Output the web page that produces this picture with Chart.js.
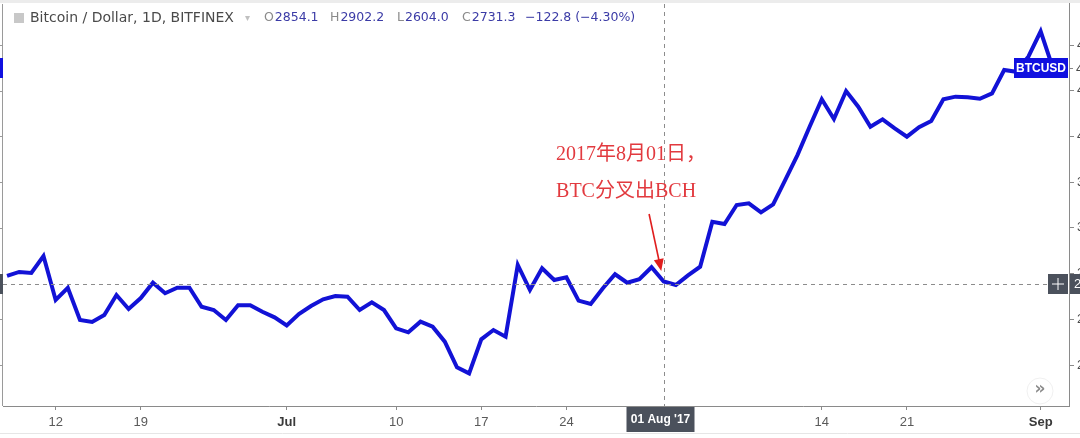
<!DOCTYPE html>
<html lang="zh">
<head>
<meta charset="UTF-8">
<title>Bitcoin / Dollar, 1D, BITFINEX</title>
<script src="https://cdn.jsdelivr.net/npm/chart.js@4.4.0/dist/chart.umd.min.js"></script>
<style>
  html, body { margin: 0; padding: 0; background: #fff; overflow: hidden; width: 1080px; height: 438px; }
  #wrap { position: relative; width: 1130px; height: 438px; }
</style>
</head>
<body>
<div id="wrap"><canvas id="btc" width="1130" height="438"></canvas></div>
<script>
// daily close, 08 Jun 2017 .. 02 Sep 2017 (index 0 = 08 Jun)
const closes = [
  2779, 2814, 2805, 2954, 2569, 2676, 2394, 2376, 2437, 2612,
  2490, 2586, 2720, 2628, 2676, 2676, 2510, 2481, 2394, 2522,
  2522, 2466, 2417, 2347, 2446, 2516, 2575, 2604, 2598, 2481,
  2549, 2481, 2321, 2286, 2379, 2335, 2204, 1980, 1927, 2225,
  2306, 2248, 2875, 2656, 2846, 2744, 2767, 2563, 2534, 2671,
  2794, 2720, 2750, 2855, 2731, 2700, 2784, 2860, 3254, 3234,
  3400, 3415, 3336, 3406, 3619, 3837, 4085, 4325, 4152, 4397,
  4260, 4085, 4150, 4071, 3998, 4080, 4135, 4325, 4348, 4342,
  4330, 4377, 4581, 4566, 4700, 4920, 4600
];
const xTickDays   = [4, 11, 23, 32, 39, 46, 54, 67, 74, 85];
const xTickLabels = ['12', '19', 'Jul', '10', '17', '24', '', '14', '21', 'Sep'];
const monthLabels = ['Jul', 'Sep'];
const yTicks = [2000, 2400, 2800, 3200, 3600, 4000, 4400, 4800];

const header = 'Bitcoin / Dollar, 1D, BITFINEX';
const ohlc = [['O', '2854.1'], ['H', '2902.2'], ['L', '2604.0'], ['C', '2731.3'], ['', '\u2212122.8 (\u22124.30%)']];
const crossDay = 54, crossValue = 2709, crossDate = "01 Aug '17";
const lastLabel = 'BTCUSD';
const noteLines = ['2017年8月01日，', 'BTC分叉出BCH'];

const LINE = '#1212d6';
const DARK = '#4b515c';

// pick a font size so the text spans about the given width
function fitFont(c, text, width, family) {
  let size = 10;
  while (size < 20) {
    c.font = (size + 0.5) + 'px ' + family;
    if (c.measureText(text).width > width) break;
    size += 0.5;
  }
  c.font = size + 'px ' + family;
}

const overlay = {
  id: 'overlay',
  afterDraw(chart) {
    const c = chart.ctx, x = chart.scales.x, y = chart.scales.y, a = chart.chartArea;
    c.save();
    // top band and frame
    c.fillStyle = '#ececec';
    c.fillRect(0, 0, 1130, 3);
    c.strokeStyle = '#9a9a9a'; c.lineWidth = 1;
    c.beginPath(); c.moveTo(2.5, 4); c.lineTo(2.5, a.bottom); c.stroke();
    yTicks.forEach(v => {
      const py = Math.round(y.getPixelForValue(v)) + 0.5;
      c.beginPath(); c.moveTo(0, py); c.lineTo(2, py); c.stroke();
    });
    c.strokeStyle = '#e6e6e6';
    c.beginPath(); c.moveTo(0, 433.5); c.lineTo(1130, 433.5); c.stroke();

    // crosshair
    const cx = Math.round(x.getPixelForValue(crossDay)) + 0.5;
    const cy = Math.round(y.getPixelForValue(crossValue)) + 0.5;
    c.strokeStyle = '#8c8c8c'; c.setLineDash([4, 4]);
    c.beginPath(); c.moveTo(cx, 4); c.lineTo(cx, a.bottom); c.stroke();
    c.beginPath(); c.moveTo(a.left, cy); c.lineTo(1048, cy); c.stroke();
    c.setLineDash([]);

    // annotation
    c.fillStyle = '#e23a3f';
    c.font = '20px "Liberation Serif", "Noto Sans CJK SC", serif';
    c.textBaseline = 'middle'; c.textAlign = 'left';
    const nx = x.getPixelForValue(45.15);
    c.fillText(noteLines[0], nx, y.getPixelForValue(3837));
    c.fillText(noteLines[1], nx, y.getPixelForValue(3514));
    const tx = x.getPixelForValue(52.8), ty = y.getPixelForValue(3321);
    const hx = x.getPixelForValue(53.8), hy = y.getPixelForValue(2822);
    const ang = Math.atan2(hy - ty, hx - tx);
    c.strokeStyle = '#e01e1e'; c.lineWidth = 1.6;
    c.beginPath(); c.moveTo(tx, ty); c.lineTo(hx - 9 * Math.cos(ang), hy - 9 * Math.sin(ang)); c.stroke();
    c.fillStyle = '#e01e1e';
    c.beginPath();
    c.moveTo(hx, hy);
    c.lineTo(hx - 12 * Math.cos(ang) + 5 * Math.sin(ang), hy - 12 * Math.sin(ang) - 5 * Math.cos(ang));
    c.lineTo(hx - 12 * Math.cos(ang) - 5 * Math.sin(ang), hy - 12 * Math.sin(ang) + 5 * Math.cos(ang));
    c.closePath(); c.fill();

    // last price label
    const ly = Math.round(y.getPixelForValue(closes[closes.length - 1]));
    c.fillStyle = '#1010e0';
    c.fillRect(1014, ly - 10, 54, 20);
    c.fillRect(0, ly - 10, 3, 20);
    c.fillStyle = '#fff';
    c.font = 'bold 12px "Liberation Sans", Arial, sans-serif';
    c.textAlign = 'center';
    c.fillText(lastLabel, 1041, ly + 1);
    c.strokeStyle = '#888'; c.lineWidth = 1;
    c.beginPath(); c.moveTo(a.right, ly + 0.5); c.lineTo(a.right + 4, ly + 0.5); c.stroke();
    c.fillStyle = '#4a4a4a'; c.textAlign = 'left';
    c.font = '13px "Liberation Sans", Arial, sans-serif';
    c.fillText(String(closes[closes.length - 1]), a.right + 7, ly + 1);

    // crosshair price label
    c.fillStyle = DARK;
    c.fillRect(1048, cy - 10.5, 20, 20);
    c.fillRect(a.right + 1, cy - 10.5, 60, 20);
    c.fillRect(0, cy - 10.5, 3, 20);
    c.strokeStyle = '#fff'; c.lineWidth = 1;
    c.beginPath();
    c.moveTo(1052, cy - 0.5); c.lineTo(1064, cy - 0.5);
    c.moveTo(1058, cy - 6.5); c.lineTo(1058, cy + 5.5);
    c.stroke();
    c.fillStyle = '#fff';
    c.fillText(String(crossValue), a.right + 5, cy);

    // crosshair date label
    c.fillStyle = DARK;
    c.fillRect(cx - 38, a.bottom + 1, 68, 25);
    c.fillStyle = '#fff';
    c.font = 'bold 12px "Liberation Sans", Arial, sans-serif';
    c.textAlign = 'center';
    c.fillText(crossDate, cx - 4, a.bottom + 14);

    // scroll button
    c.beginPath(); c.arc(1040, 391, 13, 0, Math.PI * 2);
    c.fillStyle = '#fff'; c.fill();
    c.strokeStyle = '#f0f0f0'; c.stroke();
    c.fillStyle = '#8a8a8a';
    c.font = 'bold 17px "DejaVu Sans", sans-serif';
    c.fillText('\u00bb', 1040, 390);

    // header
    c.textAlign = 'left';
    c.fillStyle = '#c8c8c8';
    c.fillRect(14, 13, 10, 10);
    c.fillStyle = '#4a4a4a';
    fitFont(c, header, 210, '"DejaVu Sans", sans-serif');
    c.fillText(header, 30, 18);
    c.fillStyle = '#c0c0c0';
    c.font = '10px "DejaVu Sans", sans-serif';
    c.fillText('\u25be', 245, 18);
    const ox = [264, 330, 397, 462, 525];
    fitFont(c, 'O2854.1', 54, '"DejaVu Sans", sans-serif');
    ohlc.forEach((p, i) => {
      c.fillStyle = '#8a8a8a';
      c.fillText(p[0], ox[i], 18);
      const w = p[0] ? c.measureText(p[0]).width + 1 : 0;
      c.fillStyle = '#3b3ba6';
      c.fillText(p[1], ox[i] + w, 18);
    });
    c.restore();
  }
};

new Chart(document.getElementById('btc'), {
  type: 'line',
  data: {
    datasets: [{
      data: closes.map((v, i) => ({ x: i, y: v })),
      borderColor: LINE,
      borderWidth: 4,
      pointRadius: 0,
      tension: 0,
      fill: false,
      borderJoinStyle: 'miter'
    }]
  },
  options: {
    responsive: false,
    animation: false,
    events: [],
    layout: { padding: { left: 3, top: 0, right: 0, bottom: 0 } },
    plugins: { legend: { display: false }, tooltip: { enabled: false } },
    scales: {
      x: {
        type: 'linear',
        min: -0.33,
        max: 87.33,
        afterBuildTicks: s => { s.ticks = xTickDays.map(v => ({ value: v })); },
        afterFit: s => { s.height = 32; },
        grid: { drawOnChartArea: false, tickLength: 4, color: '#8a8a8a' },
        border: { color: '#8a8a8a' },
        ticks: {
          autoSkip: false,
          maxRotation: 0,
          padding: 5,
          color: ctx => monthLabels.includes(xTickLabels[ctx.index]) ? '#3a3a3a' : '#5a5a5a',
          font: ctx => ({ family: '"Liberation Sans", Arial, sans-serif', size: 13,
                          weight: monthLabels.includes(xTickLabels[ctx.index]) ? 'bold' : 'normal' }),
          callback: (v, i) => xTickLabels[i]
        }
      },
      y: {
        position: 'right',
        min: 1641.25,
        max: 5193.75,
        afterBuildTicks: s => { s.ticks = yTicks.map(v => ({ value: v })); },
        afterFit: s => { s.width = 61; s.paddingTop = 0; s.paddingBottom = 0; },
        grid: { drawOnChartArea: false, tickLength: 5, color: '#8a8a8a' },
        border: { color: '#8a8a8a' },
        ticks: {
          padding: 3,
          color: '#4a4a4a',
          font: { family: '"Liberation Sans", Arial, sans-serif', size: 13 },
          callback: v => String(v)
        }
      }
    }
  },
  plugins: [overlay]
});
</script>
</body>
</html>
